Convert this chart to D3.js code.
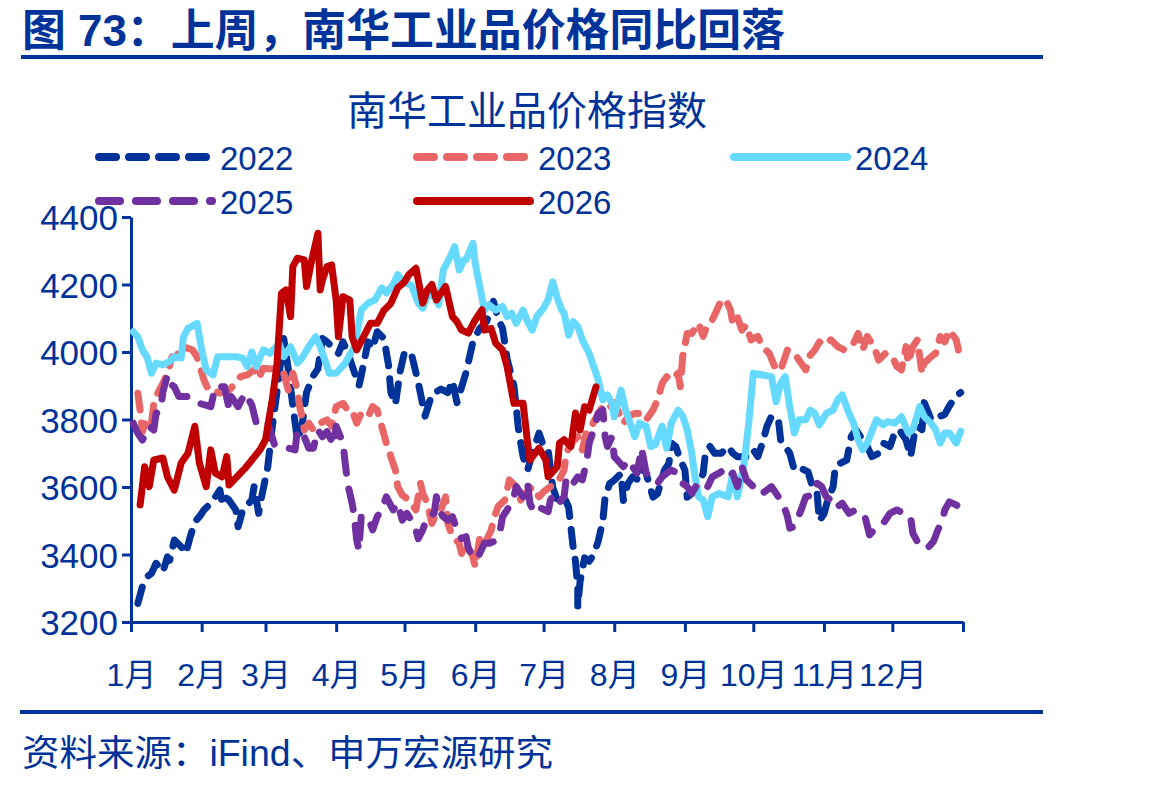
<!DOCTYPE html>
<html>
<head>
<meta charset="utf-8">
<script src="https://cdn.jsdelivr.net/npm/d3@7"></script>
<style>
  body { margin: 0; background: #fff; }
  text { font-family: "Liberation Sans", "Noto Sans CJK SC", sans-serif; fill: #003399; }
</style>
</head>
<body>
<div id="chart"></div>
<script>
// day of year (0 = 1月1日) and index value
const days2022 = [3,5,7,9,11,14,16,17,19,22,24,26,28,30,32,35,37,39,40,41,43,46,47,49,51,53,54,56,57,60,
  62,64,67,69,71,73,75,77,80,82,84,86,89,91,93,95,97,100,101,104,106,108,111,113,114,116,118,120,123,126,
  129,132,136,139,141,143,147,150,153,156,159,161,163,165,168,170,172,174,176,179,181,183,185,187,190,192,193,194,195,196,
  196,197,199,201,203,205,207,208,210,212,215,216,218,220,223,225,226,229,231,234,236,237,239,241,243,244,246,249,251,252,
  254,256,259,262,264,266,271,273,275,277,279,281,284,285,287,289,291,294,297,299,301,302,304,306,308,309,311,314,316,318,
  321,323,325,328,330,333,335,337,340,342,344,345,347,348,351,353,355,357,359,362,364];
const vals2022 = [3255,3305,3334,3344,3374,3349,3393,3383,3443,3423,3403,3453,3497,3512,3532,3552,3571,3591,3552,3571,
  3561,3532,3482,3532,3547,3561,3601,3522,3561,3660,3780,3880,4040,3950,3840,3740,3780,3880,3930,3950,
  4040,4030,4010,3996,4030,4000,3960,3900,3930,4030,4010,4060,4040,3960,3880,3845,3940,4000,3995,3910,
  3810,3875,3890,3880,3915,3850,3940,4030,4070,4090,4150,4100,4070,3980,3900,3770,3690,3650,3700,3760,
  3720,3710,3600,3560,3570,3540,3480,3420,3380,3300,3245,3320,3390,3380,3400,3440,3500,3570,3610,3620,
  3640,3560,3610,3630,3620,3660,3640,3570,3580,3650,3670,3730,3720,3680,3650,3570,3580,3610,3640,3700,
  3720,3700,3700,3720,3700,3690,3690,3710,3690,3730,3780,3810,3800,3740,3720,3700,3650,3655,3645,3600,
  3580,3500,3520,3570,3600,3660,3670,3680,3750,3770,3740,3720,3690,3700,3730,3720,3760,3770,3740,3690,
  3770,3780,3770,3850,3800,3800,3810,3815,3840,3870,3880];

const days2023 = [3,4,5,7,9,10,12,14,16,18,20,22,25,27,29,32,34,36,39,41,43,46,48,51,54,56,58,61,65,67,
  69,71,73,74,75,76,78,80,83,86,88,90,93,95,97,99,101,104,106,108,110,112,114,116,117,119,122,125,127,128,
  130,132,134,136,138,139,141,144,145,147,150,151,153,155,158,159,161,164,166,169,171,173,176,179,181,184,187,190,191,193,
  196,198,200,202,205,207,209,212,216,218,221,224,226,229,231,233,235,237,240,241,242,244,246,249,251,253,255,257,259,261,
  263,264,266,268,270,272,275,277,280,283,285,288,291,294,296,298,300,302,304,307,310,313,317,319,321,323,326,328,331,334,
  336,338,340,341,343,345,347,348,351,353,355,357,359,362,363];
const vals2023 = [3878,3828,3764,3803,3789,3848,3882,3907,3937,3986,3986,4016,4011,4006,3986,3917,3887,3887,3878,3887,
  3887,3907,3927,3932,3947,3922,3952,3950,3952,3937,3887,3937,3887,3838,3808,3769,3789,3769,3789,3799,
  3780,3838,3848,3828,3828,3789,3818,3808,3838,3828,3780,3730,3690,3650,3601,3576,3561,3532,3611,3581,
  3552,3492,3522,3532,3571,3492,3453,3433,3403,3433,3393,3364,3450,3430,3472,3502,3542,3561,3621,3601,
  3561,3581,3601,3571,3586,3601,3611,3650,3700,3730,3749,3710,3769,3780,3818,3838,3828,3850,3789,3808,
  3818,3818,3799,3828,3858,3907,3927,3917,3937,3897,3986,4055,4055,4085,4046,4085,4095,4124,4154,4154,
  4124,4085,4105,4065,4080,4036,4046,4016,3996,3947,3947,4006,3996,3967,3947,3991,4006,4030,4020,4036,
  4016,4006,4026,4055,4006,4046,4016,3976,3996,3986,3957,3947,4016,3967,4016,4036,3937,3967,3986,3996,
  4046,4030,4065,4036,4006];

const days2024 = [1,3,5,7,9,11,14,17,19,22,23,25,29,31,33,36,38,41,46,49,51,53,55,58,61,65,67,70,73,75,
  78,81,83,85,87,90,94,98,101,104,107,110,112,115,117,120,123,126,128,130,133,135,137,140,142,144,146,147,150,151,
  153,155,157,160,163,165,167,169,172,174,176,178,181,183,185,187,189,190,192,194,196,198,201,203,205,207,209,211,212,215,
  217,219,221,223,226,228,230,233,235,237,240,242,244,246,247,249,251,253,255,258,260,262,264,266,269,271,273,277,281,283,
  285,287,289,291,293,296,298,300,302,305,308,310,312,315,317,319,321,323,327,330,332,335,338,341,343,346,348,351,353,355,
  357,359,362,364];
const vals2024 = [4060,4045,4006,3986,3937,3967,3962,3972,3986,3982,4045,4070,4085,4006,3947,3932,3986,3986,3986,3982,
  3957,4000,3957,4006,3996,4026,3986,4016,3967,3982,4016,4045,4016,3977,3937,3937,3967,4016,4124,4145,
  4154,4190,4175,4200,4229,4205,4198,4145,4130,4165,4170,4140,4243,4282,4312,4243,4273,4273,4322,4263,
  4194,4124,4140,4124,4135,4105,4115,4085,4124,4090,4065,4105,4130,4155,4208,4160,4124,4115,4050,4090,
  4075,4036,3996,3957,3917,3858,3873,3848,3808,3887,3828,3789,3749,3789,3780,3720,3725,3780,3715,3789,
  3828,3810,3770,3700,3650,3571,3562,3512,3571,3581,3576,3571,3641,3571,3671,3789,3937,3932,3927,3853,
  3908,3927,3838,3760,3799,3799,3828,3818,3784,3818,3828,3858,3873,3818,3789,3739,3710,3730,3799,3784,
  3794,3789,3808,3760,3770,3838,3808,3789,3770,3730,3760,3760,3730,3765];

const days2025 = [1,3,5,8,10,11,13,14,16,17,19,21,25,27,30,35,37,39,41,43,44,47,50,53,55,58,60,61,63,66,
  69,72,73,76,78,80,82,84,86,89,90,93,94,95,97,98,99,100,101,104,106,108,110,112,115,117,119,121,122,125,
  126,128,130,133,134,135,137,139,141,143,145,147,148,150,152,155,157,159,162,163,165,168,169,172,174,175,177,180,183,184,
  185,187,190,191,194,196,198,200,201,203,205,207,208,209,211,212,216,218,220,222,224,226,229,231,233,235,237,240,242,244,
  246,249,251,253,255,258,260,262,264,266,268,270,273,275,277,279,281,284,286,288,289,291,294,296,299,301,303,305,307,309,
  312,315,318,319,322,324,326,330,333,336,339,342,343,345,347,350,352,354,356,357,359,362,364];
const vals2025 = [3789,3759,3739,3780,3769,3818,3828,3882,3932,3907,3897,3868,3868,3858,3848,3838,3897,3897,3897,3833,
  3868,3838,3878,3843,3789,3799,3789,3769,3724,3720,3715,3710,3769,3749,3715,3715,3769,3749,3764,3724,
  3780,3730,3670,3611,3552,3512,3443,3413,3512,3512,3473,3512,3532,3571,3532,3552,3502,3522,3512,3473,
  3447,3473,3512,3522,3571,3532,3512,3502,3512,3473,3447,3453,3418,3393,3388,3433,3433,3438,3473,3512,
  3532,3571,3601,3571,3611,3552,3522,3537,3527,3561,3571,3547,3571,3630,3611,3630,3621,3680,3730,3769,
  3818,3828,3749,3720,3749,3690,3660,3680,3660,3641,3715,3641,3621,3611,3630,3641,3650,3641,3611,3601,
  3581,3615,3611,3601,3630,3641,3650,3630,3641,3601,3660,3621,3601,3581,3581,3591,3601,3571,3552,3512,
  3478,3483,3532,3571,3576,3611,3601,3571,3561,3537,3552,3522,3532,3527,3512,3458,3473,3492,3522,3532,
  3522,3512,3463,3438,3443,3423,3438,3473,3502,3532,3556,3547,3537];

const days2026 = [4,6,8,10,14,16,19,22,25,28,30,33,35,37,40,42,43,50,56,57,59,62,64,66,68,70,71,73,76,77,
  79,82,83,84,86,88,90,91,93,96,97,99,102,105,108,111,114,117,120,122,125,128,130,132,134,136,138,141,143,145,
  148,151,154,155,158,160,163,165,168,172,174,175,179,182,183,187,188,190,193,195,197,199,201,204];
const vals2026 = [3547,3660,3601,3680,3686,3630,3591,3671,3700,3780,3671,3601,3710,3641,3630,3690,3606,3655,3705,3715,
  3740,3860,3960,4174,4184,4105,4253,4278,4273,4194,4263,4352,4184,4214,4253,4258,4154,4045,4164,4154,
  4045,4006,4045,4085,4085,4124,4144,4190,4208,4230,4248,4145,4184,4200,4154,4175,4194,4105,4090,4065,
  4056,4095,4125,4065,4070,4026,4006,3957,3848,3848,3730,3680,3715,3680,3630,3660,3730,3740,3720,3819,
  3769,3838,3828,3897];

const yTicks = [3200, 3400, 3600, 3800, 4000, 4200, 4400];
const monthLabels = ['1月','2月','3月','4月','5月','6月','7月','8月','9月','10月','11月','12月'];

const series = [
  { name: '2022', days: days2022, vals: vals2022, color: '#003399', dash: '17 13', lx: 99, ly: 157 },
  { name: '2023', days: days2023, vals: vals2023, color: '#E96666', dash: '17 13', lx: 417, ly: 157 },
  { name: '2024', days: days2024, vals: vals2024, color: '#66D9FF', dash: null, lx: 734, ly: 157 },
  { name: '2025', days: days2025, vals: vals2025, color: '#7030A0', dash: '21 16', lx: 99, ly: 201 },
  { name: '2026', days: days2026, vals: vals2026, color: '#C00000', dash: null, lx: 417, ly: 201 }
];

const W = 1171, H = 787;
const plotL = 131, plotR = 963, plotT = 217, plotB = 622;
const blue = '#003399';

const svg = d3.select('#chart').append('svg')
  .attr('width', W).attr('height', H);

// heading and rules
svg.append('text')
  .attr('x', 22).attr('y', 46)
  .attr('font-size', 44).attr('font-weight', 'bold')
  .attr('textLength', 763).attr('lengthAdjust', 'spacingAndGlyphs')
  .text('图 73：上周，南华工业品价格同比回落');

svg.append('line').attr('x1', 21).attr('x2', 1043).attr('y1', 57).attr('y2', 57)
  .attr('stroke', blue).attr('stroke-width', 4);
svg.append('line').attr('x1', 20).attr('x2', 1043).attr('y1', 712).attr('y2', 712)
  .attr('stroke', blue).attr('stroke-width', 4);

svg.append('text')
  .attr('x', 22).attr('y', 766)
  .attr('font-size', 36)
  .attr('textLength', 531).attr('lengthAdjust', 'spacingAndGlyphs')
  .text('资料来源：iFind、申万宏源研究');

svg.append('text')
  .attr('x', 527).attr('y', 125)
  .attr('text-anchor', 'middle')
  .attr('font-size', 40)
  .text('南华工业品价格指数');

// scales
const start = new Date(2026, 0, 1);
const end = new Date(2027, 0, 1);
const x = d3.scaleTime().domain([start, end]).range([plotL, plotR]);
const y = d3.scaleLinear().domain([3200, 4400]).range([plotB, plotT]);

// axes
const yAxis = svg.append('g')
  .attr('transform', `translate(${plotL},0)`)
  .attr('color', blue)
  .call(d3.axisLeft(y).tickValues(yTicks).tickFormat(d3.format('d'))
    .tickSize(9).tickSizeOuter(0).tickPadding(4));
yAxis.selectAll('path, line').attr('stroke-width', 3);
yAxis.selectAll('text').attr('font-size', 35).attr('dy', '0.36em')
  .attr('font-family', '"Liberation Sans", sans-serif');

const monthTicks = d3.timeMonth.range(start, d3.timeDay.offset(end, 1));
const xAxis = svg.append('g')
  .attr('transform', `translate(0,${plotB})`)
  .attr('color', blue)
  .call(d3.axisBottom(x).tickValues(monthTicks).tickSize(10).tickSizeOuter(0)
    .tickFormat((d, i) => i < 12 ? monthLabels[i] : ''));
xAxis.selectAll('path, line').attr('stroke-width', 3);
xAxis.selectAll('text').attr('font-size', 32).attr('y', 64).attr('dy', null);

// lines
const line = d3.line()
  .x(d => x(d3.timeDay.offset(start, d[0])))
  .y(d => y(d[1]));

series.forEach(s => {
  svg.append('path')
    .datum(d3.zip(s.days, s.vals))
    .attr('d', line)
    .attr('fill', 'none')
    .attr('stroke', s.color)
    .attr('stroke-width', 7)
    .attr('stroke-linejoin', 'round')
    .attr('stroke-linecap', 'round')
    .attr('stroke-dasharray', s.dash);
});

// legend
const legend = svg.append('g');
series.forEach(s => {
  legend.append('line')
    .attr('x1', s.lx).attr('x2', s.lx + 113)
    .attr('y1', s.ly).attr('y2', s.ly)
    .attr('stroke', s.color)
    .attr('stroke-width', 8)
    .attr('stroke-linecap', 'round')
    .attr('stroke-dasharray', s.dash);
  legend.append('text')
    .attr('x', s.lx + 121).attr('y', s.ly + 13)
    .attr('font-size', 33)
    .text(s.name);
});
</script>
</body>
</html>
